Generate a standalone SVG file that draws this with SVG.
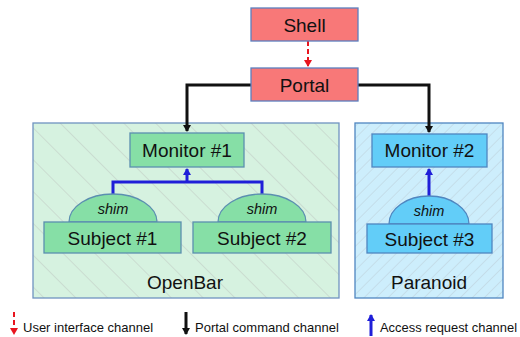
<svg xmlns="http://www.w3.org/2000/svg" width="520" height="337" viewBox="0 0 520 337">
<style>
text{font-family:"Liberation Sans",Arial,sans-serif;fill:#111;text-anchor:middle}
.lbl{font-size:19px}
.shimt{font-size:14.5px;font-style:italic}
.leg{font-size:13px;text-anchor:start}
.red{fill:#f87878;stroke:#5b7fbf;stroke-width:1.3}
.grn{fill:#86dfa6;stroke:#5b8fb0;stroke-width:1.3}
.blu{fill:#62cdf8;stroke:#4f86c0;stroke-width:1.3}
.cmd{fill:none;stroke:#111;stroke-width:3}
.acc{fill:none;stroke:#1f1fd8;stroke-width:3}
.ui{fill:none;stroke:#e8141e;stroke-width:2;stroke-dasharray:5,3}
</style>
<defs>
<pattern id="hatchG" patternUnits="userSpaceOnUse" width="22.5" height="22.5" patternTransform="rotate(-45)">
<rect width="22.5" height="22.5" fill="#d6f2e0"/>
<line x1="0" y1="0" x2="0" y2="22.5" stroke="#c3cfc6" stroke-width="1.2"/>
</pattern>
<pattern id="hatchB" patternUnits="userSpaceOnUse" width="8.5" height="8.5" patternTransform="rotate(45)">
<rect width="8.5" height="8.5" fill="#cdeefc"/>
<line x1="0" y1="0" x2="0" y2="8.5" stroke="#bccfd8" stroke-width="1"/>
</pattern>
<marker id="ahK" markerWidth="8" markerHeight="8" refX="6" refY="4" orient="auto" markerUnits="userSpaceOnUse"><path d="M0,0 L7,4 L0,8 z" fill="#111"/></marker>
<marker id="ahB" markerWidth="8" markerHeight="8" refX="6" refY="4" orient="auto" markerUnits="userSpaceOnUse"><path d="M0,0 L7,4 L0,8 z" fill="#1f1fd8"/></marker>
<marker id="ahR" markerWidth="8" markerHeight="8" refX="6" refY="4" orient="auto" markerUnits="userSpaceOnUse"><path d="M0,0 L7,4 L0,8 z" fill="#e8141e"/></marker>
</defs>

<g id="openbar">
<rect x="33" y="123" width="306" height="175" fill="url(#hatchG)" stroke="#6f93c0" stroke-width="1.3"/>
<text class="lbl" x="185" y="289">OpenBar</text>
</g>
<g id="paranoid">
<rect x="355" y="123" width="148" height="175" fill="url(#hatchB)" stroke="#4f86c0" stroke-width="1.3"/>
<text class="lbl" x="429" y="289">Paranoid</text>
</g>

<g id="connectors">
<line class="ui" x1="308" y1="41" x2="308" y2="66" marker-end="url(#ahR)"/>
<polyline class="cmd" points="251,85 187,85 187,131" marker-end="url(#ahK)"/>
<polyline class="cmd" points="358,85 429,85 429,132" marker-end="url(#ahK)"/>
<polyline class="acc" points="113,194 113,182 262,182 262,194"/>
<line class="acc" x1="187" y1="182" x2="187" y2="169" marker-end="url(#ahB)"/>
<line class="acc" x1="429" y1="196" x2="429" y2="169" marker-end="url(#ahB)"/>
</g>

<g id="shell">
<rect class="red" x="251" y="8" width="107" height="33"/>
<text class="lbl" x="304.5" y="31.5">Shell</text>
</g>
<g id="portal">
<rect class="red" x="251" y="68" width="107" height="33"/>
<text class="lbl" x="304.5" y="91.5">Portal</text>
</g>

<g id="monitor1">
<rect class="grn" x="130" y="133" width="114" height="34"/>
<text class="lbl" x="187" y="157">Monitor #1</text>
</g>
<g id="monitor2">
<rect class="blu" x="372" y="134" width="115" height="33"/>
<text class="lbl" x="429.5" y="157">Monitor #2</text>
</g>

<g id="shim1">
<path class="grn" d="M69,222 A44,28 0 0 1 157,222 Z"/>
<text class="shimt" x="113" y="214">shim</text>
</g>
<g id="subject1">
<rect class="grn" x="44" y="222" width="137" height="31"/>
<text class="lbl" x="112.5" y="244.5">Subject #1</text>
</g>
<g id="shim2">
<path class="grn" d="M218,222 A44,28 0 0 1 306,222 Z"/>
<text class="shimt" x="262" y="214">shim</text>
</g>
<g id="subject2">
<rect class="grn" x="193" y="222" width="138" height="31"/>
<text class="lbl" x="262" y="244.5">Subject #2</text>
</g>
<g id="shim3">
<path class="blu" d="M389,224 A40,28 0 0 1 469,224 Z"/>
<text class="shimt" x="429" y="216">shim</text>
</g>
<g id="subject3">
<rect class="blu" x="367" y="224" width="125" height="29"/>
<text class="lbl" x="429.5" y="245.5">Subject #3</text>
</g>

<g id="legend">
<line class="ui" x1="14" y1="312" x2="14" y2="334" stroke-dasharray="4,3" marker-end="url(#ahR)"/>
<text class="leg" x="23" y="332">User interface channel</text>
<line class="cmd" x1="186" y1="312" x2="186" y2="334" stroke-width="2" marker-end="url(#ahK)"/>
<text class="leg" x="195" y="332">Portal command channel</text>
<line class="acc" x1="371" y1="336" x2="371" y2="315" stroke-width="2" marker-end="url(#ahB)"/>
<text class="leg" x="380" y="332" textLength="137" lengthAdjust="spacingAndGlyphs">Access request channel</text>
</g>
</svg>
